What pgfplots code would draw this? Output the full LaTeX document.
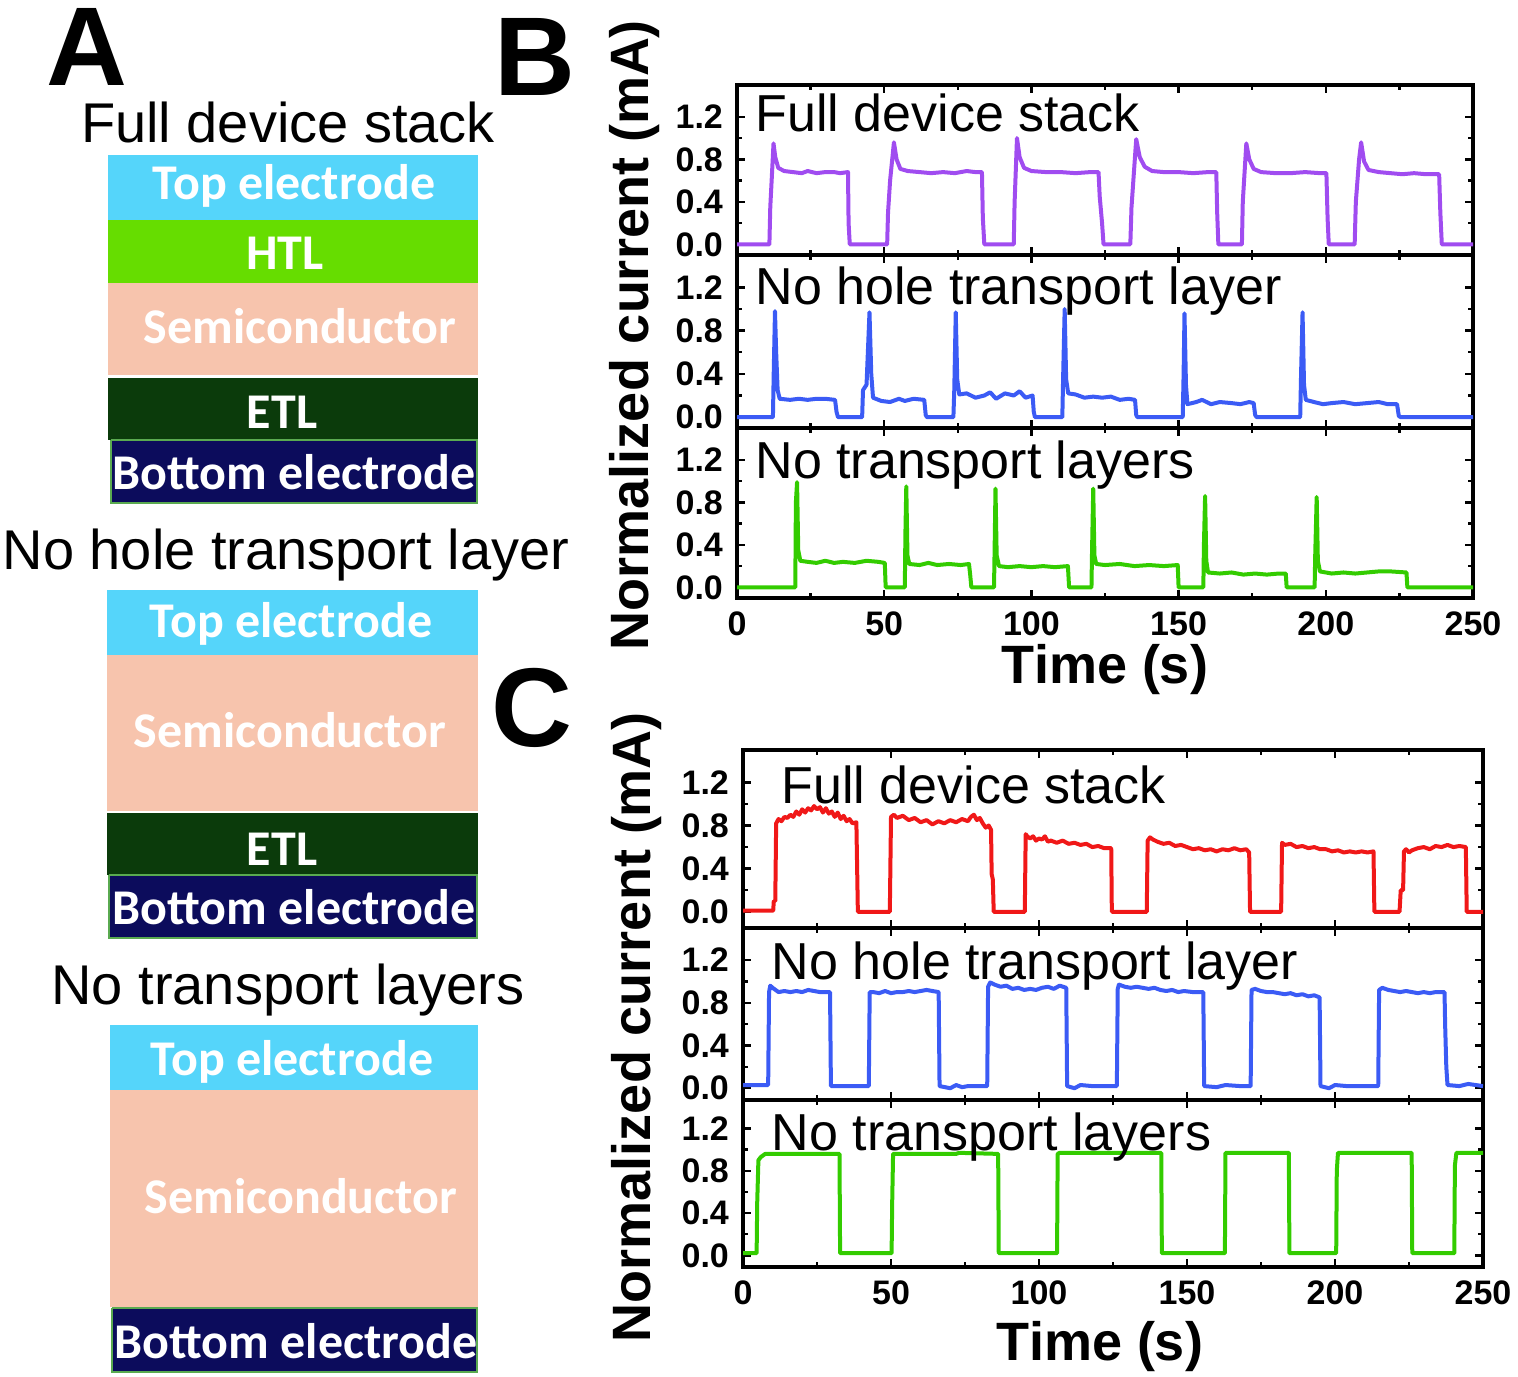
\documentclass[border=0pt]{standalone}
\usepackage{pgfplots}
\pgfplotsset{compat=1.18}
\usepackage{fontspec}
\setmainfont{Liberation Sans}
\newfontfamily\calibri{Carlito}
\definecolor{topc}{HTML}{55D5FA}
\definecolor{htlc}{HTML}{66DD00}
\definecolor{semic}{HTML}{F7C4AD}
\definecolor{etlc}{HTML}{0B3B0B}
\definecolor{botc}{HTML}{0C0C5C}
\definecolor{purp}{HTML}{A04CF0}
\definecolor{bl}{HTML}{3B5BF5}
\definecolor{gr}{HTML}{33CC00}
\definecolor{rd}{HTML}{F01818}
\pgfplotsset{
 sub/.style={scale only axis, width=184pt, xmin=0, xmax=250, no markers,
   xtick={0,50,100,150,200,250}, ytick={0,0.4,0.8,1.2}, yticklabels={0.0,0.4,0.8,1.2},
   minor x tick num=1, minor y tick num=1,
   axis line style={line width=0.8pt},
   major tick style={line width=0.6pt, black}, minor tick style={line width=0.6pt, black},
   major tick length=2pt, minor tick length=1.3pt,
   tick label style={font=\fontsize{8.5}{10}\selectfont\bfseries},
   /pgf/number format/assume math mode=true,
   anchor=north west},
 nox/.style={xticklabels={{},{},{},{},{},{}}},
}
\tikzset{
 ttl/.style={anchor=north west, inner sep=0pt, font=\fontsize{13}{15}\selectfont},
 lay/.style={font=\calibri\bfseries\fontsize{12.5}{14}\selectfont, text=white},
 sttl/.style={font=\fontsize{14}{16}\selectfont},
 tr/.style={line width=1pt, line join=round},
}
\begin{document}
\begin{tikzpicture}
\path[use as bounding box] (0,0) rectangle (379.5pt,344.25pt);
% overlay axis in pixel coordinates (panel A, labels)
\begin{axis}[at={(0pt,0pt)}, anchor=south west, scale only axis, width=379.5pt, height=344.25pt,
  xmin=0, xmax=1518, ymin=0, ymax=1377, y dir=reverse, hide axis, clip=false]
% stack 1
\addplot[fill=topc, draw=none] coordinates {(108,155) (478,155) (478,220) (108,220)};
\addplot[fill=htlc, draw=none] coordinates {(108,220) (478,220) (478,283) (108,283)};
\addplot[fill=semic, draw=none] coordinates {(108,283) (478,283) (478,375) (108,375)};
\addplot[fill=etlc, draw=none] coordinates {(108,378) (478,378) (478,440) (108,440)};
\addplot[fill=botc, draw={rgb,255:red,90;green,170;blue,80}, line width=0.5pt] coordinates {(111,440) (477,440) (477,503) (111,503) (111,440)};
% stack 2
\addplot[fill=topc, draw=none] coordinates {(107,590) (478,590) (478,655) (107,655)};
\addplot[fill=semic, draw=none] coordinates {(107,655) (478,655) (478,811) (107,811)};
\addplot[fill=etlc, draw=none] coordinates {(107,813) (478,813) (478,875) (107,875)};
\addplot[fill=botc, draw={rgb,255:red,90;green,170;blue,80}, line width=0.5pt] coordinates {(109,875) (477,875) (477,938) (109,938) (109,875)};
% stack 3
\addplot[fill=topc, draw=none] coordinates {(110,1025) (478,1025) (478,1090) (110,1090)};
\addplot[fill=semic, draw=none] coordinates {(110,1090) (478,1090) (478,1307) (110,1307)};
\addplot[fill=botc, draw={rgb,255:red,90;green,170;blue,80}, line width=0.5pt] coordinates {(112,1308) (477,1308) (477,1372) (112,1372) (112,1308)};
% layer labels
\node[lay] at (axis cs:294,186) {Top electrode};
\node[lay] at (axis cs:285,253) {HTL};
\node[lay] at (axis cs:300,326) {Semiconductor};
\node[lay] at (axis cs:282,412) {ETL};
\node[lay] at (axis cs:294,472) {Bottom electrode};
\node[lay] at (axis cs:291,624) {Top electrode};
\node[lay] at (axis cs:290,730) {Semiconductor};
\node[lay] at (axis cs:282,849) {ETL};
\node[lay] at (axis cs:294,907) {Bottom electrode};
\node[lay] at (axis cs:292,1062) {Top electrode};
\node[lay] at (axis cs:301,1196) {Semiconductor};
\node[lay] at (axis cs:296,1341) {Bottom electrode};
% stack titles
\node[sttl] at (axis cs:288,122) {Full device stack};
\node[sttl] at (axis cs:286,555) {No hole transport layer};
\node[sttl] at (axis cs:288,990) {No transport layers};
% panel letters
\node[font=\fontsize{28}{30}\selectfont\bfseries] at (axis cs:87,47) {A};
\node[font=\fontsize{28}{30}\selectfont\bfseries] at (axis cs:535,57) {B};
\node[font=\fontsize{28}{30}\selectfont\bfseries] at (axis cs:532,708) {C};
% axis labels
\node[rotate=90, font=\fontsize{13.5}{16}\selectfont\bfseries] at (axis cs:635,335) {Normalized current (mA)};
\node[rotate=90, font=\fontsize{13.5}{16}\selectfont\bfseries] at (axis cs:637,1027) {Normalized current (mA)};
\node[font=\fontsize{13.5}{16}\selectfont\bfseries] at (axis cs:1105,670) {Time (s)};
\node[font=\fontsize{13.5}{16}\selectfont\bfseries] at (axis cs:1100,1347) {Time (s)};
\end{axis}

% ---------------- Panel B ----------------
\begin{axis}[sub, nox, at={(184.25pt,323pt)}, height=42.5pt, ymin=-0.1, ymax=1.5]
\addplot[tr, purp] coordinates {
(0,0) (11.0,0) (11.3,0.35) (11.8,0.62) (12.4,0.95) (13.0,0.82) (14.0,0.72) (16,0.69) (19,0.68) (22,0.67) (24,0.69) (27,0.67) (30,0.68) (33,0.68) (35,0.67) (37.7,0.68) (37.9,0.2) (38.3,0)
(51.0,0) (51.3,0.3) (52,0.6) (53.3,0.96) (54.2,0.8) (55.5,0.71) (58,0.69) (62,0.68) (66,0.67) (70,0.68) (74,0.67) (78,0.69) (81,0.68) (83.2,0.68) (83.5,0.25) (84,0)
(94.0,0) (94.3,0.4) (95.1,1.0) (96,0.82) (97.5,0.72) (100,0.69) (105,0.68) (110,0.68) (115,0.67) (120,0.68) (122.8,0.68) (123.2,0.45) (124,0.2) (124.5,0)
(133.6,0) (134.0,0.35) (135.6,0.99) (136.8,0.82) (138.5,0.73) (141,0.69) (145,0.68) (150,0.68) (155,0.67) (160,0.68) (162.8,0.68) (163.1,0.3) (163.5,0)
(171.5,0) (171.8,0.4) (173,0.95) (174,0.8) (175.5,0.71) (178,0.68) (183,0.67) (188,0.67) (193,0.68) (198,0.67) (200.2,0.67) (200.6,0.25) (201,0)
(209.8,0) (210.2,0.4) (211.3,0.8) (212,0.96) (213,0.78) (214.5,0.7) (218,0.68) (222,0.67) (226,0.66) (230,0.67) (234,0.66) (238.5,0.66) (238.9,0.3) (239.4,0) (250,0)};
\node[ttl] at (rel axis cs:0.024,0.95) {Full device stack};
\end{axis}
\begin{axis}[sub, nox, at={(184.25pt,280.5pt)}, height=43.25pt, ymin=-0.1, ymax=1.5]
\addplot[tr, bl] coordinates {
(0,0) (12.2,0) (12.5,0.45) (12.9,0.98) (13.3,0.6) (13.8,0.25) (14.5,0.17) (18,0.16) (21,0.17) (24,0.16) (27,0.17) (30,0.17) (33.3,0.16) (33.8,0.05) (34.3,0)
(42.5,0) (42.8,0.25) (44,0.3) (45,0.97) (45.6,0.4) (46.2,0.18) (49,0.15) (52,0.14) (55,0.17) (57,0.15) (60,0.17) (63.6,0.16) (64.1,0.02) (64.5,0)
(73.5,0) (73.8,0.25) (74.3,0.97) (74.8,0.35) (75.5,0.21) (78,0.22) (81,0.18) (84,0.2) (86,0.23) (88,0.17) (91,0.22) (94,0.2) (96,0.24) (98,0.18) (100.4,0.2) (100.8,0.05) (101.2,0)
(110.5,0) (110.8,0.4) (111.3,1.0) (111.8,0.35) (112.5,0.22) (115,0.21) (118,0.18) (121,0.19) (124,0.18) (127,0.19) (130,0.16) (133,0.17) (135.2,0.16) (135.6,0.02) (136,0)
(151.4,0) (151.7,0.4) (152,0.96) (152.5,0.3) (153,0.12) (156,0.14) (158,0.16) (161,0.12) (164,0.14) (168,0.13) (171,0.12) (174,0.14) (175.5,0.13) (176,0.02) (176.5,0)
(191.3,0) (191.6,0.4) (192.1,0.97) (192.6,0.3) (193.2,0.16) (196,0.14) (199,0.12) (202,0.13) (206,0.14) (210,0.12) (214,0.13) (218,0.14) (221,0.12) (224.2,0.12) (224.8,0.01) (225.5,0) (250,0)};
\node[ttl] at (rel axis cs:0.024,0.935) {No hole transport layer};
\end{axis}
\begin{axis}[sub, at={(184.25pt,237.25pt)}, height=42.5pt, ymin=-0.1, ymax=1.5, xticklabels={0,50,100,150,200,250}]
\addplot[tr, gr] coordinates {
(0,0) (19.8,0) (20.0,0.8) (20.4,0.99) (20.8,0.35) (21.5,0.25) (24,0.24) (27,0.23) (30,0.25) (33,0.23) (36,0.24) (40,0.23) (44,0.25) (48,0.24) (50.2,0.23) (50.5,0)
(57.0,0) (57.2,0.5) (57.5,0.95) (57.9,0.3) (58.5,0.22) (62,0.21) (65,0.23) (68,0.21) (72,0.22) (76,0.21) (78.8,0.22) (79.2,0.12) (79.6,0)
(87.3,0) (87.5,0.35) (87.8,0.93) (88.2,0.3) (89,0.2) (92,0.19) (96,0.2) (100,0.19) (104,0.2) (108,0.19) (112.4,0.2) (112.8,0)
(120.4,0) (120.6,0.35) (121,0.93) (121.4,0.3) (122,0.22) (125,0.21) (130,0.22) (135,0.2) (140,0.21) (145,0.2) (149.7,0.21) (150,0)
(158.4,0) (158.6,0.4) (159,0.86) (159.4,0.25) (160,0.14) (164,0.13) (168,0.14) (172,0.12) (176,0.13) (180,0.12) (184,0.13) (186.4,0.13) (186.7,0)
(196.2,0) (196.4,0.3) (196.9,0.85) (197.3,0.25) (198,0.15) (202,0.13) (206,0.14) (210,0.13) (214,0.14) (218,0.15) (222,0.15) (227.4,0.14) (227.7,0) (250,0)};
\node[ttl] at (rel axis cs:0.024,0.93) {No transport layers};
\end{axis}

% ---------------- Panel C ----------------
\begin{axis}[sub, nox, width=185pt, at={(185.75pt,156.75pt)}, height=44.5pt, ymin=-0.15, ymax=1.5]
\addplot[tr, rd] coordinates {
(0,0.01) (10.2,0.01) (10.4,0.1) (10.9,0.1) (11.2,0.82) (12,0.86) (13,0.84) (14,0.88) (15,0.87) (16,0.9) (17,0.88) (18,0.93) (19,0.9) (20,0.95) (21,0.92) (22,0.96) (23,0.94) (24,0.98) (25,0.95) (26,0.97) (27,0.92) (28,0.96) (29,0.91) (30,0.93) (31,0.88) (32,0.92) (33,0.86) (34,0.89) (35,0.84) (36,0.86) (37,0.82) (38.3,0.83) (38.8,0)
(49.6,0) (50,0.88) (51,0.9) (52,0.87) (54,0.89) (56,0.85) (58,0.87) (60,0.83) (62,0.85) (64,0.81) (66,0.84) (68,0.82) (70,0.85) (72,0.83) (74,0.86) (76,0.84) (77,0.88) (78,0.9) (79,0.85) (80,0.87) (81,0.82) (82,0.78) (83,0.8) (83.8,0.76) (84,0.35) (84.4,0.3) (84.7,0)
(95.2,0) (95.5,0.72) (96,0.7) (97,0.68) (98,0.7) (99,0.66) (100,0.68) (101,0.67) (102,0.7) (103,0.65) (104,0.66) (106,0.64) (108,0.66) (110,0.63) (112,0.64) (114,0.62) (116,0.63) (118,0.6) (120,0.61) (122,0.59) (124.4,0.59) (124.6,0)
(136.4,0) (136.7,0.66) (137.5,0.69) (138.5,0.67) (140,0.65) (142,0.63) (144,0.64) (146,0.61) (148,0.62) (150,0.6) (152,0.58) (154,0.59) (156,0.57) (158,0.58) (160,0.56) (162,0.58) (164,0.57) (166,0.59) (168,0.57) (170,0.58) (171,0.55) (171.3,0)
(181.8,0) (182.1,0.64) (183,0.62) (185,0.63) (187,0.6) (189,0.61) (191,0.59) (193,0.6) (195,0.58) (197,0.58) (199,0.56) (201,0.57) (203,0.55) (205,0.56) (207,0.55) (209,0.56) (211,0.55) (213,0.56) (213.3,0)
(221.8,0) (222.2,0.2) (223,0.2) (223.3,0.56) (224,0.58) (225,0.55) (226,0.57) (228,0.59) (230,0.6) (232,0.58) (234,0.61) (236,0.6) (238,0.62) (240,0.6) (242,0.61) (244.2,0.6) (244.5,0) (250,0)};
\node[ttl] at (rel axis cs:0.051,0.915) {Full device stack};
\end{axis}
\begin{axis}[sub, nox, width=185pt, at={(185.75pt,112.25pt)}, height=43pt, ymin=-0.11, ymax=1.5]
\addplot[tr, bl] coordinates {
(0,0.03) (8.5,0.03) (8.8,0.9) (9.2,0.96) (10,0.94) (11,0.92) (12,0.9) (14,0.91) (16,0.9) (18,0.91) (20,0.9) (22,0.92) (24,0.91) (26,0.9) (29.4,0.9) (29.7,0.02) (35,0.02) (42.5,0.02)
(42.8,0.9) (44,0.9) (46,0.89) (48,0.91) (50,0.89) (52,0.9) (54,0.9) (56,0.91) (58,0.9) (60,0.91) (62,0.92) (64,0.91) (66.1,0.9) (66.4,0.02) (70,0) (72,0.03) (74,0.01) (76,0.02) (82.5,0.02)
(82.8,0.95) (83.5,0.99) (85,0.97) (87,0.95) (89,0.96) (91,0.93) (93,0.94) (95,0.92) (97,0.93) (99,0.92) (101,0.94) (103,0.95) (105,0.93) (107,0.96) (109.2,0.94) (109.5,0.02) (112,0) (114,0.03) (118,0.02) (126.3,0.02)
(126.6,0.93) (127,0.97) (129,0.95) (131,0.94) (133,0.95) (135,0.94) (137,0.93) (139,0.94) (141,0.92) (143,0.91) (145,0.92) (147,0.9) (149,0.91) (152,0.9) (155.5,0.9) (155.8,0.02) (160,0.01) (163,0.03) (168,0.02) (171.5,0.02)
(171.8,0.92) (173,0.93) (175,0.91) (177,0.9) (179,0.9) (181,0.89) (183,0.88) (185,0.89) (187,0.87) (189,0.88) (191,0.86) (193,0.87) (194.8,0.85) (195.1,0.02) (198,0) (200,0.03) (204,0.02) (208,0.02) (214.6,0.02)
(214.9,0.92) (216,0.94) (218,0.92) (220,0.91) (222,0.9) (224,0.91) (226,0.9) (228,0.89) (230,0.9) (232,0.89) (234,0.9) (237,0.9) (237.2,0.6) (237.6,0.2) (238,0.03) (242,0.02) (245,0.04) (250,0.02)};
\node[ttl] at (rel axis cs:0.038,0.924) {No hole transport layer};
\end{axis}
\begin{axis}[sub, width=185pt, at={(185.75pt,69.25pt)}, height=41.75pt, ymin=-0.11, ymax=1.47, xticklabels={0,50,100,150,200,250}]
\addplot[tr, gr] coordinates {
(0,0.02) (4.6,0.02) (4.8,0.5) (5.2,0.9) (6,0.93) (7.5,0.96) (32.6,0.96) (32.8,0.02) (50.2,0.02) (50.4,0.5) (50.7,0.96) (72,0.96) (73,0.97) (86.2,0.96) (86.4,0.02)
(106.1,0.02) (106.3,0.96) (107,0.97) (141.3,0.97) (141.5,0.02) (162.8,0.02) (163,0.97) (184.4,0.97) (184.6,0.02)
(200.4,0.02) (200.6,0.8) (201,0.97) (225.9,0.97) (226.1,0.02) (240.3,0.02) (240.5,0.85) (241,0.97) (250,0.97)};
\node[ttl] at (rel axis cs:0.038,0.93) {No transport layers};
\end{axis}
\end{tikzpicture}
\end{document}
